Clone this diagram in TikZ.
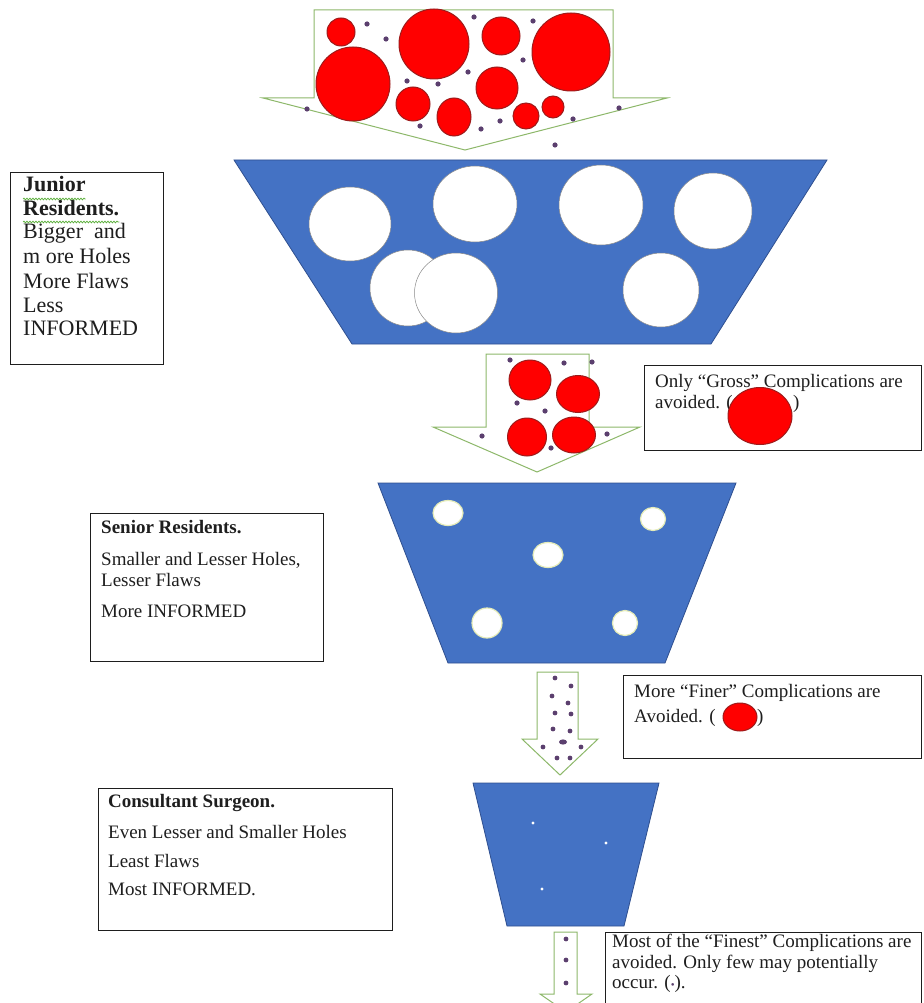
\documentclass[tikz,border=0pt]{standalone}
\usepackage{fontspec}
\setmainfont{Liberation Serif}
\usetikzlibrary{decorations.pathmorphing}
\definecolor{trap}{HTML}{4472C4}
\definecolor{trapline}{HTML}{2F4F8F}
\definecolor{arrowgreen}{HTML}{8DB86A}
\definecolor{redfill}{HTML}{FF0000}
\definecolor{redline}{HTML}{9E1B1B}
\definecolor{dotc}{HTML}{5B3F6E}
\definecolor{holeline}{HTML}{8A8A8A}
\definecolor{holeline2}{HTML}{E4EBB8}
\definecolor{squig}{HTML}{5AAF3A}
\definecolor{ink}{HTML}{1E1E1E}
\begin{document}
\begin{tikzpicture}[x=1pt,y=-1pt,
  arrowshape/.style={draw=arrowgreen, fill=white, line width=1pt, line join=miter},
  funnel/.style={fill=trap, draw=trapline, line width=0.8pt},
  redball/.style={fill=redfill, draw=redline, line width=1pt},
  grain/.style={fill=dotc},
  hole/.style={fill=white, draw=holeline, line width=0.5pt},
  smallhole/.style={fill=white, draw=holeline2, line width=1.2pt},
  pin/.style={fill=white},
  box/.style={draw=ink, fill=white, line width=1.2pt, anchor=north west, inner sep=0pt},
  txt/.style={anchor=base west, inner sep=0pt, text=ink, font=\fontsize{19}{21}\selectfont},
  btxt/.style={anchor=base west, inner sep=0pt, text=ink, font=\fontsize{19}{21}\selectfont\bfseries},
  jtxt/.style={anchor=base west, inner sep=0pt, text=ink, font=\fontsize{22}{24}\selectfont},
  jbtxt/.style={anchor=base west, inner sep=0pt, text=ink, font=\fontsize{22}{24}\selectfont\bfseries},
  squiggle/.style={draw=squig, line width=0.7pt, decorate, decoration={snake, amplitude=0.9pt, segment length=3pt}}
]
\useasboundingbox (0,0) rectangle (923,1003);

% ---------- top arrow with all particles ----------
\draw[arrowshape] (314,10) -- (613,10) -- (613,98) -- (667,98) -- (465,150) -- (263,98) -- (314,98) -- cycle;
\foreach \x/\y/\r in {341/32/14, 353/84/37, 434/44/35, 501/36/19, 571/52/39, 497/88/21, 413/104/17, 526/116/13, 553/107/11}
  \path[redball] (\x,\y) circle[radius=\r pt];
\path[redball] (454,117) ellipse[x radius=17pt, y radius=19pt];
\foreach \x/\y in {367/24, 386/39, 474/17, 533/21, 523/60, 468/72, 407/81, 438/84, 307/109, 420/126, 481/129, 500/121, 573/119, 619/108, 555/145}
  \path[grain] (\x,\y) circle[radius=2.6pt];

% ---------- first funnel (junior) ----------
\draw[funnel] (234,160) -- (827,160) -- (711,344) -- (352,344) -- cycle;
\path[hole] (350,224) ellipse[x radius=41pt, y radius=37pt];
\path[hole] (475,204) ellipse[x radius=42pt, y radius=38pt];
\path[hole] (601,205) ellipse[x radius=42pt, y radius=40pt];
\path[hole] (713,211) ellipse[x radius=39pt, y radius=38pt];
\path[hole] (408,288) ellipse[x radius=38pt, y radius=38pt];
\path[hole] (456,293) ellipse[x radius=41.5pt, y radius=40pt];
\path[hole] (661,290) ellipse[x radius=38pt, y radius=37pt];

% ---------- second arrow ----------
\draw[arrowshape] (486,354) -- (589,354) -- (589,427) -- (640,427) -- (537,472) -- (433,427) -- (486,427) -- cycle;
\path[redball] (530,380) ellipse[x radius=21pt, y radius=20pt];
\path[redball] (578,394) ellipse[x radius=21.5pt, y radius=18.5pt];
\path[redball] (527,437) ellipse[x radius=19.5pt, y radius=19pt];
\path[redball] (574,435) ellipse[x radius=21.5pt, y radius=18pt];
\foreach \x/\y in {510/360, 564/363, 592/362, 517/403, 545/411, 482/436, 607/434, 551/448}
  \path[grain] (\x,\y) circle[radius=2.6pt];

% ---------- second funnel (senior) ----------
\draw[funnel] (378,483) -- (736,483) -- (665,663) -- (448,663) -- cycle;
\path[smallhole] (448,513) ellipse[x radius=15pt, y radius=12.5pt];
\path[smallhole] (653,519) ellipse[x radius=12.5pt, y radius=11.5pt];
\path[smallhole] (548,555) ellipse[x radius=15pt, y radius=12.5pt];
\path[smallhole] (487,623) ellipse[x radius=15pt, y radius=15pt];
\path[smallhole] (625,623) ellipse[x radius=12.5pt, y radius=12.5pt];

% ---------- third arrow ----------
\draw[arrowshape] (537,672) -- (578,672) -- (578,739) -- (598,739) -- (560,775) -- (522,739) -- (537,739) -- cycle;
\foreach \x/\y in {555/678, 571/686, 552/696, 568/703, 555/713, 571/714, 553/729, 570/731, 543/747, 581/747, 557/758, 570/758}
  \path[grain] (\x,\y) circle[radius=2.4pt];
\path[grain] (563,742) ellipse[x radius=4pt, y radius=2.6pt];

% ---------- third funnel (consultant) ----------
\draw[funnel] (473,783) -- (659,783) -- (624,926) -- (507,926) -- cycle;
\foreach \x/\y in {533/823, 606/843, 542/889}
  \path[pin] (\x,\y) circle[radius=1.6pt];

% ---------- fourth arrow ----------
\draw[arrowshape] (554,932) -- (577,932) -- (577,994) -- (592,994) -- (566,1012) -- (540,994) -- (554,994) -- cycle;
\foreach \x/\y in {566/939, 566/960, 566/983}
  \path[grain] (\x,\y) circle[radius=2.4pt];

% ---------- text boxes ----------
\node[box, minimum width=153pt, minimum height=192pt] (jbox) at (10,172) {};
\node[jbtxt] (j1) at (23,192) {Junior};
\node[jbtxt] (j2) at (23,215) {Residents.};
\node[jtxt] (j3) at (23,238) {Bigger\ \ and};
\node[jtxt] (j4) at (23,263) {m ore Holes};
\node[jtxt] (j5) at (23,288) {More Flaws};
\node[jtxt] (j6) at (23,312) {Less};
\node[jtxt] (j7) at (23,335) {INFORMED};
\draw[squiggle] ([yshift=-7pt]j1.base west) -- ([yshift=-7pt]j1.base east);
\draw[squiggle] ([yshift=-7pt]j2.base west) -- ([yshift=-7pt]j2.base east);

\node[box, minimum width=277pt, minimum height=85pt] (gbox) at (644,365) {};
\node[txt] (g1) at (655,387) {Only “Gross” Complications are};
\node[txt] (g2) at (655,408) {avoided. (};
\node[txt] (g3) at (793,408) {)};
\path[redball] (760,416) ellipse[x radius=32pt, y radius=28.5pt];

\node[box, minimum width=233pt, minimum height=148pt] (sbox) at (90,513) {};
\node[btxt] (s1) at (101,533) {Senior Residents.};
\node[txt] (s2) at (101,565) {Smaller and Lesser Holes,};
\node[txt] (s3) at (101,586) {Lesser Flaws};
\node[txt] (s4) at (101,617) {More INFORMED};

\node[box, minimum width=298pt, minimum height=83pt] (fbox) at (623,675) {};
\node[txt] (f1) at (634,697) {More “Finer” Complications are};
\node[txt] (f2) at (634,722) {Avoided. (};
\node[txt] (f3) at (757,722) {)};
\path[redball] (740,717) ellipse[x radius=17pt, y radius=14pt];

\node[box, minimum width=294pt, minimum height=142pt] (cbox) at (98,788) {};
\node[btxt] (c1) at (108,807) {Consultant Surgeon.};
\node[txt] (c2) at (108,838) {Even Lesser and Smaller Holes};
\node[txt] (c3) at (108,867) {Least Flaws};
\node[txt] (c4) at (108,895) {Most INFORMED.};

\node[box, minimum width=316pt, minimum height=80pt] (nbox) at (605,932) {};
\node[txt] (n1) at (612,947) {Most of the “Finest” Complications are};
\node[txt] (n2) at (612,968) {avoided. Only few may potentially};
\node[txt] (n3) at (612,988) {occur. ({\color{dotc}\fontsize{11}{11}\selectfont •}).};
\end{tikzpicture}
\end{document}
